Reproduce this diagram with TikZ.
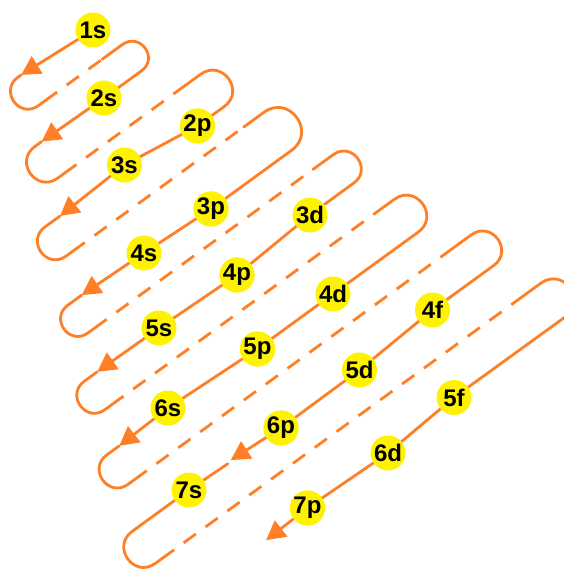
\documentclass[tikz,border=0pt]{standalone}
\usepackage{fontspec}
\setmainfont{Liberation Sans}
\usetikzlibrary{arrows.meta}
\pgfdeclarelayer{bg}
\pgfsetlayers{bg,main}
\definecolor{org}{RGB}{255,127,39}
\definecolor{yel}{RGB}{255,242,0}
\begin{document}
\begin{tikzpicture}[x=1pt,y=-1pt,
  orb/.style={circle,fill=yel,minimum size=35pt,inner sep=0pt,font=\bfseries\fontsize{24}{24}\selectfont},
  ln/.style={draw=org,line width=2.8pt,line cap=round},
  dl/.style={draw=org,line width=2.8pt,dash pattern=on 15pt off 12pt},
  arr/.style={ln,-{Triangle[length=19pt,width=20pt]}}]
\useasboundingbox (0,0) rectangle (563,570);
% orbitals
\node[orb] (1s) at (93,30) {1s};
\node[orb] (2s) at (104,98) {2s};
\node[orb] (2p) at (197.5,126) {2p};
\node[orb] (3s) at (124.5,165) {3s};
\node[orb] (3p) at (211,209) {3p};
\node[orb] (3d) at (310,215) {3d};
\node[orb] (4s) at (144,253) {4s};
\node[orb] (4p) at (237,275) {4p};
\node[orb] (4d) at (333,294) {4d};
\node[orb] (4f) at (432.5,310) {4f};
\node[orb] (5s) at (159,328) {5s};
\node[orb] (5p) at (257.5,349) {5p};
\node[orb] (5d) at (359.5,370) {5d};
\node[orb] (5f) at (454,397.5) {5f};
\node[orb] (6s) at (168,408) {6s};
\node[orb] (6p) at (281,428) {6p};
\node[orb] (6d) at (388,453) {6d};
\node[orb] (7s) at (189,490) {7s};
\node[orb] (7p) at (307.5,508) {7p};
\begin{pgfonlayer}{bg}
\begin{scope}[x={(0.809pt,0.588pt)},y={(0.588pt,-0.809pt)}]
% arrow tips
\coordinate (A1) at (-27,73);
\coordinate (A2) at (-49.6,139);
\coordinate (A3) at (-78.5,210);
\coordinate (A4) at (-107.4,286.7);
\coordinate (A5) at (-139.9,357.9);
\coordinate (A6) at (-165.6,430.7);
\coordinate (A7) at (-83.9,507.8);
\coordinate (A8) at (-102.3,593.3);
\coordinate (S8) at (-88.5,509);
% ends of the right-hand turns
\coordinate (R1) at (72.8,140.5);
\coordinate (R2) at (118.6,218);
\coordinate (R3) at (147.5,293);
\coordinate (R4) at (178.7,356);
\coordinate (R5) at (201.7,433.6);
\coordinate (R6) at (243.1,505);
\coordinate (R7) at (271,588.6);
% solid diagonals
\draw[arr] (1s) -- (A1);
\draw[ln] (R1) -- (2s);
\draw[arr] (2s) -- (A2);
\draw[ln] (R2) -- (2p) (2p) -- (3s);
\draw[arr] (3s) -- (A3);
\draw[ln] (R3) -- (3p) (3p) -- (4s);
\draw[arr] (4s) -- (A4);
\draw[ln] (R4) -- (3d) (3d) -- (4p) (4p) -- (5s);
\draw[arr] (5s) -- (A5);
\draw[ln] (R5) -- (4d) (4d) -- (5p) (5p) -- (6s);
\draw[arr] (6s) -- (A6);
\draw[ln] (R6) -- (4f) (4f) -- (5d) (5d) -- (6p);
\draw[arr] (6p) -- (A7);
\draw[ln] (S8) -- (7s);
\draw[ln] (R7) -- (5f) (5f) -- (6d) (6d) -- (7p);
\draw[arr] (7p) -- (A8);
% return 1
\draw[ln] (A1) -- (-31,73) .. controls (-54.3,73) and (-54.3,108) .. (-31,108) -- (-23,108);
\draw[dl] (-23,108) -- (47.8,108);
\draw[ln] (47.8,108) -- (72.8,108) .. controls (94.5,108) and (94.5,140.5) .. (R1);
% return 2
\draw[ln] (A2) -- (-58,139) .. controls (-84,139) and (-84,178) .. (-58,178) -- (-50,178);
\draw[dl] (-50,178) -- (93.6,178);
\draw[ln] (93.6,178) -- (118.6,178) .. controls (145.3,178) and (145.3,218) .. (R2);
% return 3
\draw[ln] (A3) -- (-97,210) .. controls (-121,210) and (-121,246) .. (-97,246) -- (-89,246);
\draw[dl] (-89,246) -- (122.5,246);
\draw[ln] (122.5,246) -- (147.5,246) .. controls (178.8,246) and (178.8,293) .. (R3);
% return 4
\draw[ln] (A4) -- (-124.5,286.7) .. controls (-147.4,286.7) and (-147.4,321) .. (-124.5,321) -- (-116.5,321);
\draw[dl] (-116.5,321) -- (153.7,321);
\draw[ln] (153.7,321) -- (178.7,321) .. controls (202,321) and (202,356) .. (R4);
% return 5
\draw[ln] (A5) -- (-156,357.9) .. controls (-179.4,357.9) and (-179.4,393) .. (-156,393) -- (-148,393);
\draw[dl] (-148,393) -- (176.7,393);
\draw[ln] (176.7,393) -- (201.7,393) .. controls (228.8,393) and (228.8,433.6) .. (R5);
% return 6
\draw[ln] (A6) -- (-181,430.7) .. controls (-205.2,430.7) and (-205.2,467) .. (-181,467) -- (-173,467);
\draw[dl] (-173,467) -- (218.1,467);
\draw[ln] (218.1,467) -- (243.1,467) .. controls (268.4,467) and (268.4,505) .. (R6);
% return 7
\draw[ln] (7s) -- (-205.5,507.5) .. controls (-231.8,507.5) and (-231.8,547) .. (-205.5,547) -- (-197.5,547);
\draw[dl] (-197.5,547) -- (246,547);
\draw[ln] (246,547) -- (271,547) .. controls (298.7,547) and (298.7,588.6) .. (R7);
\end{scope}
\end{pgfonlayer}
\end{tikzpicture}
\end{document}
